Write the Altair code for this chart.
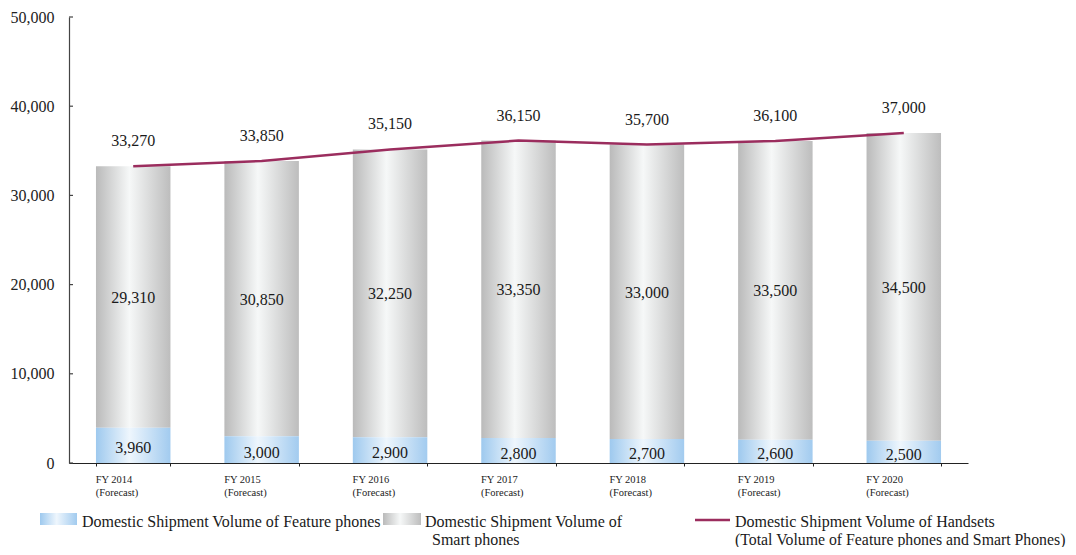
import altair as alt
import pandas as pd

years = ["FY 2014", "FY 2015", "FY 2016", "FY 2017", "FY 2018", "FY 2019", "FY 2020"]
feature = [3960, 3000, 2900, 2800, 2700, 2600, 2500]
smart = [29310, 30850, 32250, 33350, 33000, 33500, 34500]
total = [33270, 33850, 35150, 36150, 35700, 36100, 37000]
y_ticks = [0, 10000, 20000, 30000, 40000, 50000]

legend_feature = "Domestic Shipment Volume of Feature phones"
legend_smart = ["Domestic Shipment Volume of", "Smart phones"]
legend_total = ["Domestic Shipment Volume of Handsets",
                "(Total Volume of Feature phones and Smart Phones)"]

df = pd.DataFrame({"year": years, "feature": feature, "smart": smart, "total": total})

FONT = "Liberation Serif"
LINE_COLOR = "#9b2d5e"

gray_grad = alt.Gradient(
    gradient="linear", x1=0, x2=1, y1=0, y2=0,
    stops=[alt.GradientStop(color="#bababa", offset=0),
           alt.GradientStop(color="#f6f8f8", offset=0.45),
           alt.GradientStop(color="#bdbdbd", offset=1)])
blue_grad = alt.Gradient(
    gradient="linear", x1=0, x2=1, y1=0, y2=0,
    stops=[alt.GradientStop(color="#9ec9ee", offset=0),
           alt.GradientStop(color="#eef6fd", offset=0.45),
           alt.GradientStop(color="#a2cbef", offset=1)])

x_enc = alt.X("year:N", sort=years, title=None,
              scale=alt.Scale(paddingInner=0.42, paddingOuter=0.21),
              axis=alt.Axis(labelExpr="datum.label ? [datum.label, '(Forecast)'] : ''",
                            labelAlign="left", labelBaseline="top", labelOffset=-38,
                            labelFont=FONT, labelFontSize=10.5, labelColor="#222",
                            labelLineHeight=13, labelPadding=8, labelAngle=0,
                            tickBand="extent", tickSize=3, tickColor="#222",
                            domainColor="#222", domainWidth=1.2))
y_scale = alt.Scale(domain=[0, 50000], nice=False)
y_axis = alt.Axis(values=y_ticks, labelExpr="format(datum.value, ',')", grid=False, ticks=False,
                  labelFont=FONT, labelFontSize=16, labelColor="#222",
                  labelPadding=15, domainColor="#444", domainWidth=1.2)


def Y(field):
    return alt.Y(field, scale=y_scale, axis=y_axis, title=None)


base = alt.Chart(df).encode(x=x_enc)

smart_bar = base.mark_bar(color=gray_grad).encode(y=Y("feature:Q"), y2="total:Q")
feature_bar = base.mark_bar(color=blue_grad).encode(y=Y("feature:Q"), y2=alt.datum(0))
line = base.mark_line(color=LINE_COLOR, strokeWidth=2.5).encode(y=Y("total:Q"))

txt = dict(font=FONT, fontSize=16, color="#1a1a1a", baseline="middle")
total_lbl = base.mark_text(dy=-25, **txt).encode(
    y=Y("total:Q"), text=alt.Text("total:Q", format=","))
smart_lbl = base.transform_calculate(mid="datum.feature + datum.smart / 2").mark_text(dy=1, **txt).encode(
    y=Y("mid:Q"), text=alt.Text("smart:Q", format=","))
feat_lbl = base.transform_calculate(mid="datum.feature / 2").mark_text(dy=3, **txt).encode(
    y=Y("mid:Q"), text=alt.Text("feature:Q", format=","))

yt = alt.Chart(pd.DataFrame({"v": y_ticks})).mark_rule(color="#444", strokeWidth=1.2).encode(
    x=alt.value(0), x2=alt.value(4), y=Y("v:Q"))

one = pd.DataFrame({"a": [0]})
ltxt = dict(font=FONT, fontSize=16, color="#1a1a1a", baseline="middle", align="left")
leg = [
    alt.Chart(one).mark_rect(color=blue_grad).encode(
        x=alt.value(-29), x2=alt.value(8), y=alt.value(496), y2=alt.value(508)),
    alt.Chart(one).mark_text(text=legend_feature, **ltxt).encode(
        x=alt.value(13), y=alt.value(505)),
    alt.Chart(one).mark_rect(color=gray_grad).encode(
        x=alt.value(314), x2=alt.value(352), y=alt.value(496), y2=alt.value(508)),
    alt.Chart(one).mark_text(text=legend_smart[0], **ltxt).encode(
        x=alt.value(356), y=alt.value(505)),
    alt.Chart(one).mark_text(text=legend_smart[1], **ltxt).encode(
        x=alt.value(363), y=alt.value(523)),
    alt.Chart(one).mark_rule(color=LINE_COLOR, strokeWidth=2.5).encode(
        x=alt.value(626), x2=alt.value(661), y=alt.value(503)),
    alt.Chart(one).mark_text(text=legend_total[0], **ltxt).encode(
        x=alt.value(666), y=alt.value(505)),
    alt.Chart(one).mark_text(text=legend_total[1], fontSize=15.8, font=FONT, color="#1a1a1a",
                             baseline="middle", align="left").encode(
        x=alt.value(666), y=alt.value(523)),
]

chart = alt.layer(smart_bar, feature_bar, line, total_lbl, smart_lbl, feat_lbl, yt, *leg).properties(
    width=899, height=446,
    background="white",
    autosize=alt.AutoSizeParams(type="none"),
    padding={"left": 61, "top": 9, "right": 100, "bottom": 84},
).configure_view(strokeWidth=0)

chart.save("out.html", embed_options={"renderer": "svg", "actions": False})
